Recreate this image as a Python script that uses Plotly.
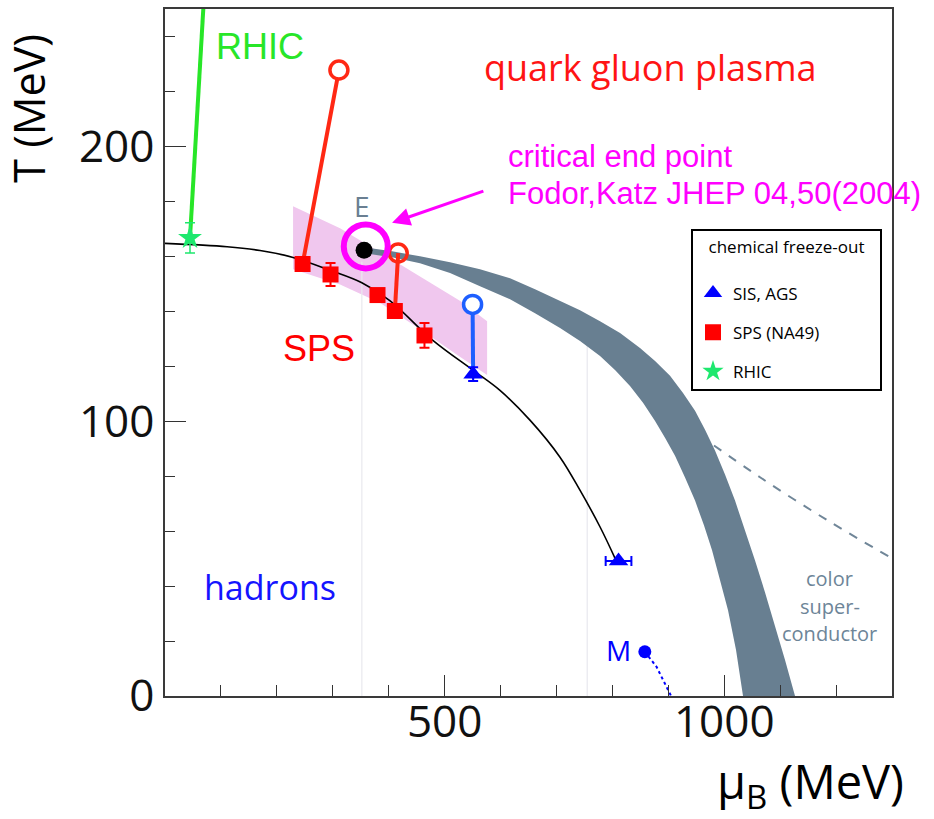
import plotly.graph_objects as go

# ---------------- data (MeV) ----------------
# chemical freeze-out curve
fo_mu = [0, 111, 170, 229, 297, 352, 402, 479, 551, 599, 653, 706, 742, 778, 805]
fo_T = [164.7, 163.5, 162.1, 159.6, 154.8, 150.4, 143.9, 129.4, 118.5, 111.2, 100.3, 87.0, 74.9, 61.5, 50.0]

# SPS (NA49) freeze-out points
sps_mu = [246, 296, 380, 411, 464]
sps_T = [157.2, 153.4, 145.9, 140.1, 131.2]
sps_err = [0, 4.2, 0, 0, 4.5]

# SIS, AGS points
sis_mu = [551, 811]
sis_T = [117.1, 49.1]
sis_xerr = [0, 23]
sis_yerr = [2.5, 0]

# RHIC point
rhic_mu = [44.7]
rhic_T = [166.7]
rhic_err = [5.5]

# trajectories (open circles = initial state)
rhic_line_mu = [44.7, 69.9]
rhic_line_T = [166.7, 255]
sps_line1_mu = [246, 311]
sps_line1_T = [157.2, 227.8]
sps_line2_mu = [411, 417]
sps_line2_T = [140.1, 161.2]
ags_line_mu = [551, 550]
ags_line_T = [117.1, 142.5]
red_open_mu = [311, 417]
red_open_T = [227.8, 161.2]
blue_open_mu = [550]
blue_open_T = [142.5]

# critical end point
E_mu = [356]
E_T = [162.2]
ring_mu = [359]
ring_T = [163.6]

# M point and its line
M_mu = [858, 879, 905]
M_T = [16.1, 10.6, 0.0]

# first-order transition band (upper edge, then lower edge)
band_up_mu = [355.9, 405.9, 456.0, 509.7, 563.3, 617.0, 661.7, 706.4, 742.1, 777.9, 813.7,
              849.4, 876.3, 903.1, 926.3, 947.8, 965.7, 983.5, 1001.4, 1019.3, 1037.2,
              1055.1, 1073.0, 1090.8, 1108.7, 1126.6]
band_up_T = [163.3, 161.8, 160.0, 157.8, 155.3, 152.0, 148.0, 143.7, 140.4, 136.4, 132.1,
             126.6, 121.9, 116.5, 110.3, 103.8, 96.9, 89.3, 80.6, 71.1, 60.6,
             49.3, 37.7, 25.8, 13.1, 0]
band_lo_mu = [355.9, 405.9, 456.0, 509.7, 563.3, 617.0, 661.7, 706.4, 742.1, 777.9, 804.7,
              831.5, 854.8, 876.3, 894.1, 912.0, 929.9, 947.8, 963.9, 978.2, 992.5,
              1006.8, 1021.1, 1033.6]
band_lo_T = [161.1, 159.7, 157.5, 153.9, 149.1, 144.4, 139.3, 133.9, 129.2, 123.7, 118.6,
             112.8, 106.7, 100.1, 94.0, 87.4, 79.5, 71.1, 62.0, 53.0, 42.1,
             31.2, 16.7, 0]

# colour superconductor boundary (dashed)
csc_mu = [955, 1064, 1184, 1300]
csc_T = [95.0, 79.6, 64.0, 50.1]

# lattice critical region (pink)
pink_up_mu = [229, 313, 420, 528, 576]
pink_up_T = [178.2, 170.2, 157.1, 143.7, 136.4]
pink_lo_mu = [229, 313, 385, 456, 528, 576]
pink_lo_T = [155.3, 149.7, 143.0, 133.5, 123.4, 116.8]

# faint guide lines
guide_mu = [352, 755]
guide_top = [158, 137]

SANS = "Open Sans"
ARIAL = "Liberation Sans"
GRAY = "rgb(104,127,145)"

fig = go.Figure()

# pink region
fig.add_trace(go.Scatter(
    x=pink_up_mu + pink_lo_mu[::-1], y=pink_up_T + pink_lo_T[::-1],
    fill="toself", fillcolor="rgb(240,199,238)", line=dict(width=0),
    mode="lines", showlegend=False, hoverinfo="skip"))

# faint guide lines
for gx, gt in zip(guide_mu, guide_top):
    fig.add_trace(go.Scatter(x=[gx, gx], y=[0, gt], mode="lines",
                             line=dict(color="rgb(232,232,238)", width=1.2),
                             showlegend=False, hoverinfo="skip"))

# dashed colour superconductor line
fig.add_trace(go.Scatter(x=csc_mu, y=csc_T, mode="lines",
                         line=dict(color="rgb(112,134,152)", width=2, dash="dash", shape="spline"),
                         showlegend=False, hoverinfo="skip"))

# gray band
fig.add_trace(go.Scatter(
    x=band_up_mu + band_lo_mu[::-1], y=band_up_T + band_lo_T[::-1],
    fill="toself", fillcolor=GRAY, line=dict(width=0),
    mode="lines", showlegend=False, hoverinfo="skip"))

# freeze-out curve
fig.add_trace(go.Scatter(x=fo_mu, y=fo_T, mode="lines",
                         line=dict(color="black", width=1.6, shape="spline"),
                         showlegend=False, hoverinfo="skip"))

# trajectories
fig.add_trace(go.Scatter(x=rhic_line_mu, y=rhic_line_T, mode="lines",
                         line=dict(color="rgb(40,230,40)", width=4),
                         showlegend=False, hoverinfo="skip"))
for lx, ly in [(sps_line1_mu, sps_line1_T), (sps_line2_mu, sps_line2_T)]:
    fig.add_trace(go.Scatter(x=lx, y=ly, mode="lines",
                             line=dict(color="rgb(255,40,20)", width=4),
                             showlegend=False, hoverinfo="skip"))
fig.add_trace(go.Scatter(x=ags_line_mu, y=ags_line_T, mode="lines",
                         line=dict(color="rgb(30,95,255)", width=4),
                         showlegend=False, hoverinfo="skip"))

# M point and dotted line
fig.add_trace(go.Scatter(x=M_mu, y=M_T, mode="lines",
                         line=dict(color="blue", width=2, dash="dot"),
                         showlegend=False, hoverinfo="skip"))
fig.add_trace(go.Scatter(x=M_mu[:1], y=M_T[:1], mode="markers",
                         marker=dict(color="blue", size=13),
                         showlegend=False, hoverinfo="skip"))

# legend data points
fig.add_trace(go.Scatter(
    x=sis_mu, y=sis_T, mode="markers", name="SIS, AGS", legendgroup="a",
    marker=dict(symbol="triangle-up", color="blue", size=17),
    error_x=dict(type="data", array=sis_xerr, color="blue", thickness=2, width=5),
    error_y=dict(type="data", array=sis_yerr, color="blue", thickness=2, width=5)))
fig.add_trace(go.Scatter(
    x=sps_mu, y=sps_T, mode="markers", name="SPS (NA49)", legendgroup="b",
    marker=dict(symbol="square", color="red", size=16),
    error_y=dict(type="data", array=sps_err, color="red", thickness=2, width=5)))
fig.add_trace(go.Scatter(
    x=rhic_mu, y=rhic_T, mode="markers", name="RHIC", legendgroup="c",
    marker=dict(symbol="star", color="rgb(30,232,110)", size=18),
    error_y=dict(type="data", array=rhic_err, color="rgb(30,232,110)", thickness=1.5, width=5)))

# open circles
fig.add_trace(go.Scatter(x=red_open_mu, y=red_open_T, mode="markers",
                         marker=dict(symbol="circle", color=["white", "rgba(0,0,0,0)"], size=18,
                                     line=dict(color="rgb(255,40,20)", width=3.5)),
                         showlegend=False, hoverinfo="skip"))
fig.add_trace(go.Scatter(x=blue_open_mu, y=blue_open_T, mode="markers",
                         marker=dict(symbol="circle", color="white", size=18,
                                     line=dict(color="rgb(30,95,255)", width=3.5)),
                         showlegend=False, hoverinfo="skip"))

# critical end point
fig.add_trace(go.Scatter(x=E_mu, y=E_T, mode="markers",
                         marker=dict(color="black", size=17),
                         showlegend=False, hoverinfo="skip"))
fig.add_trace(go.Scatter(x=ring_mu, y=ring_T, mode="markers",
                         marker=dict(symbol="circle-open", size=44, color="magenta",
                                     line=dict(color="magenta", width=6)),
                         showlegend=False, hoverinfo="skip"))

annotations = [
    dict(x=169, y=236.5, text="RHIC", font=dict(family=ARIAL, size=36, color="rgb(40,230,40)")),
    dict(x=275, y=126.6, text="SPS", font=dict(family=ARIAL, size=36, color="red")),
    dict(x=869, y=228.7, text="quark gluon plasma", font=dict(family=SANS, size=36, color="rgb(255,20,20)")),
    dict(x=188, y=39.7, text="hadrons", font=dict(family=SANS, size=34, color="rgb(20,20,255)")),
    dict(x=352, y=178.4, text="E", font=dict(family=SANS, size=28, color="rgb(106,127,146)")),
    dict(x=811, y=16.7, text="M", font=dict(family=SANS, size=28, color="blue")),
    dict(x=1189, y=42.9, text="color", font=dict(family=SANS, size=20, color="rgb(109,133,152)")),
    dict(x=1189, y=32.4, text="super-", font=dict(family=SANS, size=20, color="rgb(109,133,152)")),
    dict(x=1189, y=22.8, text="conductor", font=dict(family=SANS, size=20, color="rgb(109,133,152)")),
    dict(x=610, y=196.4, text="critical end point", xanchor="left",
         font=dict(family=ARIAL, size=31, color="magenta")),
    dict(x=610, y=182.8, text="Fodor,Katz JHEP 04,50(2004)", xanchor="left",
         font=dict(family=ARIAL, size=31, color="magenta")),
]
ann = []
for a in annotations:
    d = dict(xref="x", yref="y", showarrow=False, xanchor=a.get("xanchor", "center"),
             yanchor="middle")
    d.update(a)
    ann.append(d)

# arrow to the critical point
ann.append(dict(xref="x", yref="y", axref="x", ayref="y", x=406, y=172.2, ax=572, ay=183.9,
                text="", showarrow=True, arrowhead=2, arrowsize=1.2, arrowwidth=3,
                arrowcolor="magenta"))
# axis titles
ann.append(dict(xref="paper", yref="paper", x=-0.187, y=0.855, text="T (MeV)", textangle=-90,
                showarrow=False, font=dict(family=SANS, size=43, color="black"),
                xanchor="center", yanchor="middle"))
ann.append(dict(xref="paper", yref="paper", x=1.0193, y=-0.128, text="μ<sub>B</sub> (MeV)",
                showarrow=False, font=dict(family=SANS, size=47, color="black"),
                xanchor="right", yanchor="middle"))

axis_common = dict(showline=True, mirror=True, linecolor="#3a3a3a", linewidth=1.5,
                   showgrid=False, zeroline=False, ticks="inside", ticklen=21, tickwidth=1.3,
                   tickcolor="#333", tickfont=dict(family=SANS, size=44, color="#111"))

fig.update_layout(
    width=934, height=819,
    margin=dict(l=165, r=42, t=7, b=123),
    paper_bgcolor="white", plot_bgcolor="white",
    xaxis=dict(range=[0, 1300], tickmode="array", tickvals=[500, 1000],
               ticktext=["500", "1000"], ticklabelstandoff=-14,
               minor=dict(ticks="inside", ticklen=11, tickwidth=1.3, tickcolor="#333",
                          tickmode="linear", tick0=0, dtick=100),
               **axis_common),
    yaxis=dict(range=[0, 250], tickmode="array", tickvals=[0, 100, 200],
               ticktext=["0", "100", "200"],
               minor=dict(ticks="inside", ticklen=10, tickwidth=1.3, tickcolor="#333",
                          tickmode="linear", tick0=0, dtick=20),
               **axis_common),
    legend=dict(x=(691 - 165) / 727, y=(696 - 228) / 689, xanchor="left", yanchor="top",
                bordercolor="black", borderwidth=2, bgcolor="white",
                font=dict(family=SANS, size=17, color="black"),
                title=dict(text="&nbsp;&nbsp;&nbsp;chemical freeze-out&nbsp;&nbsp;&nbsp;<br>&nbsp;",
                           side="top center",
                           font=dict(family=SANS, size=17, color="black")),
                tracegroupgap=14, traceorder="grouped", itemsizing="trace"),
    annotations=ann,
    showlegend=True,
)

fig.write_html("out.html")
